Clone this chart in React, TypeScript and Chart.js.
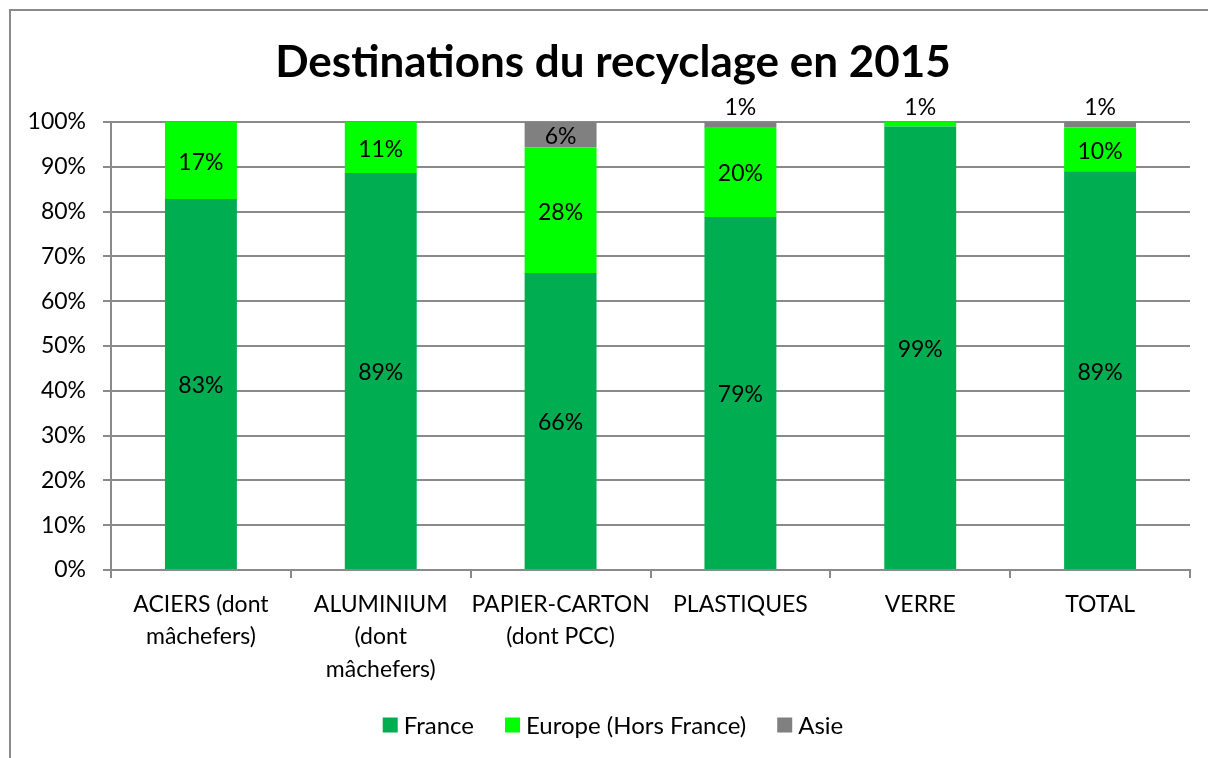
import React, { useEffect, useRef } from "react";
import { Chart, registerables } from "chart.js";

Chart.register(...registerables);

const categories: (string | string[])[] = [
  ["ACIERS (dont", "mâchefers)"],
  ["ALUMINIUM", "(dont", "mâchefers)"],
  ["PAPIER-CARTON", "(dont PCC)"],
  "PLASTIQUES",
  "VERRE",
  "TOTAL",
];
const seriesNames = ["France", "Europe (Hors France)", "Asie"];
const france = [82.8, 88.6, 66.3, 78.8, 99.0, 89.0];
const europe = [17.2, 11.4, 28.0, 20.1, 1.0, 9.8];
const asie = [0, 0, 5.7, 1.1, 0, 1.2];
const colors = ["#00AD50", "#00FF00", "#808080"];
const titleText = "Destinations du recyclage en 2015";

const FONT = "Lato, 'Open Sans', sans-serif";
const FS = 23;
const GRID = "#8a8a8a";
const FRAME_CENTER = 613;

const framePlugin = {
  id: "frame",
  beforeDraw(chart: any) {
    const ctx = chart.ctx;
    ctx.save();
    ctx.fillStyle = "#fff";
    ctx.fillRect(0, 0, chart.width, chart.height);
    ctx.strokeStyle = GRID;
    ctx.lineWidth = 2;
    ctx.beginPath();
    ctx.moveTo(10, chart.height + 5);
    ctx.lineTo(10, 10);
    ctx.lineTo(chart.width + 5, 10);
    ctx.stroke();
    ctx.restore();
  },
  afterDraw(chart: any) {
    const ctx = chart.ctx;
    ctx.save();
    // title
    ctx.fillStyle = "#000";
    ctx.textAlign = "center";
    ctx.textBaseline = "alphabetic";
    ctx.font = `bold 44px ${FONT}`;
    ctx.fillText(titleText, FRAME_CENTER, 77);
    // legend
    ctx.font = `24px ${FONT}`;
    ctx.textAlign = "left";
    ctx.textBaseline = "middle";
    const box = 15, gapText = 6, gapItem = 31;
    const widths = seriesNames.map((n) => box + gapText + ctx.measureText(n).width);
    const total = widths.reduce((a, b) => a + b, 0) + gapItem * (widths.length - 1);
    let x = FRAME_CENTER - total / 2;
    const cy = 725;
    seriesNames.forEach((n, i) => {
      ctx.fillStyle = colors[i];
      ctx.fillRect(x, cy - box / 2, box, box);
      ctx.fillStyle = "#000";
      ctx.fillText(n, x + box + gapText, cy + 1);
      x += widths[i] + gapItem;
    });
    ctx.restore();
  },
};

const segLabels = {
  id: "segLabels",
  afterDatasetsDraw(chart: any) {
    const ctx = chart.ctx;
    ctx.save();
    ctx.font = `${FS}px ${FONT}`;
    ctx.fillStyle = "#000";
    ctx.textAlign = "center";
    chart.data.datasets.forEach((ds: any, di: number) => {
      const meta = chart.getDatasetMeta(di);
      meta.data.forEach((bar: any, i: number) => {
        const v = ds.data[i];
        if (!v) return;
        const txt = Math.round(v) + "%";
        const { x, y, base } = bar.getProps(["x", "y", "base"], true);
        if (Math.abs(base - y) < 20) {
          ctx.textBaseline = "alphabetic";
          ctx.fillText(txt, x, Math.min(y, base) - 7);
        } else {
          ctx.textBaseline = "middle";
          ctx.fillText(txt, x, (y + base) / 2 + 2);
        }
      });
    });
    ctx.restore();
  },
};

export default function App() {
  const ref = useRef<HTMLCanvasElement>(null);
  useEffect(() => {
    if (!ref.current) return;
    const chart = new Chart(ref.current, {
      type: "bar",
      data: {
        labels: categories,
        datasets: [france, europe, asie].map((d, i) => ({
          label: seriesNames[i],
          data: d,
          backgroundColor: colors[i],
          borderWidth: 0,
          categoryPercentage: 1,
          barPercentage: 0.4,
        })),
      },
      options: {
        animation: false,
        responsive: false,
        maintainAspectRatio: false,
        layout: { padding: { left: 10, right: 18, top: 122, bottom: 10 } },
        plugins: {
          title: { display: false },
          legend: { display: false },
          tooltip: { enabled: false },
        },
        scales: {
          x: {
            stacked: true,
            grid: { drawOnChartArea: false, drawTicks: true, tickLength: 8, color: GRID, lineWidth: 2 },
            border: { color: GRID, width: 2 },
            ticks: { color: "#000", font: { family: FONT, size: FS, lineHeight: 1.42 }, maxRotation: 0, autoSkip: false, padding: 10 },
            afterFit(scale: any) {
              scale.height = 178;
            },
          },
          y: {
            stacked: true,
            min: 0,
            max: 100,
            ticks: {
              stepSize: 10,
              color: "#000",
              font: { family: FONT, size: FS },
              padding: 17,
              callback: (v: any) => v + "%",
            },
            grid: { color: GRID, lineWidth: 2, tickLength: 8 },
            border: { color: GRID, width: 2 },
            afterFit(scale: any) {
              scale.width = 101;
            },
          },
        },
      },
      plugins: [framePlugin, segLabels],
    });
    return () => chart.destroy();
  }, []);
  return (
    <div style={{ position: "fixed", left: 0, top: 0, width: 1208, height: 758 }}>
      <canvas ref={ref} width={1208} height={758} style={{ width: 1208, height: 758 }} />
    </div>
  );
}
